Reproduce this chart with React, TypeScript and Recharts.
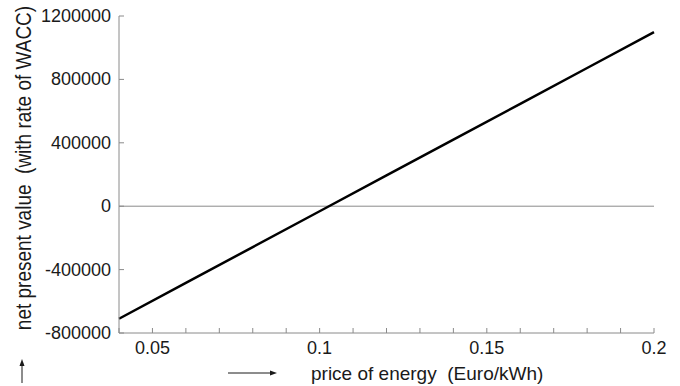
import { LineChart, Line, XAxis, YAxis, ReferenceLine } from "recharts";

// price of energy (Euro/kWh) and net present value
const prices = [0.04, 0.06, 0.08, 0.1, 0.12, 0.14, 0.16, 0.18, 0.2];
const npv = [-710000, -484000, -258000, -32000, 194000, 420000, 646000, 872000, 1098000];

const xTicks = [0.04, 0.05, 0.06, 0.07, 0.08, 0.09, 0.1, 0.11, 0.12, 0.13, 0.14, 0.15, 0.16, 0.17, 0.18, 0.19, 0.2];
const xLabels = ["0.05", "0.1", "0.15", "0.2"];
const yTicks = [-800000, -400000, 0, 400000, 800000, 1200000];

const data = prices.map((p, i) => ({ price: p, npv: npv[i] }));

const AXIS = "#8a8a8a";
const TEXT = "#1a1a1a";
const FONT = "'Liberation Sans', Arial, sans-serif";

const findLabel = (v: number) => xLabels.find((l) => Math.abs(parseFloat(l) - v) < 1e-6);

const BottomTick = (props: any) => {
  const { x, y, payload } = props;
  const label = findLabel(payload.value);
  return (
    <g>
      <line x1={x} x2={x} y1={y} y2={y - 5} stroke={AXIS} />
      {label && (
        <text x={x} y={y + 15} textAnchor="middle" dominantBaseline="central" fontSize={18} fill={TEXT} fontFamily={FONT}>
          {label}
        </text>
      )}
    </g>
  );
};

const TopTick = (props: any) => {
  const { x, y } = props;
  return <line x1={x} x2={x} y1={y} y2={y + 5} stroke={AXIS} />;
};

const LeftTick = (props: any) => {
  const { x, y, payload } = props;
  return (
    <g>
      <line x1={x} x2={x + 5} y1={y} y2={y} stroke={AXIS} />
      <text x={x - 8} y={y} textAnchor="end" dominantBaseline="central" fontSize={18} fill={TEXT} fontFamily={FONT}>
        {payload.value}
      </text>
    </g>
  );
};

export default function App() {
  return (
    <div style={{ position: "absolute", left: 0, top: 0, width: 680, height: 386, background: "#fff", fontFamily: FONT }}>
      <LineChart width={680} height={386} data={data} margin={{ top: 16, right: 26, bottom: 0, left: 0 }}>
        <XAxis
          dataKey="price"
          type="number"
          domain={[0.04, 0.2]}
          ticks={xTicks}
          interval={0}
          height={53}
          tickSize={0}
          tickMargin={0}
          tickLine={false}
          tick={<BottomTick />}
          axisLine={{ stroke: AXIS }}
        />
        <XAxis
          xAxisId="top"
          orientation="top"
          dataKey="price"
          type="number"
          domain={[0.04, 0.2]}
          ticks={xTicks}
          interval={0}
          height={0}
          tickSize={0}
          tickMargin={0}
          tickLine={false}
          tick={<TopTick />}
          axisLine={{ stroke: AXIS }}
        />
        <YAxis
          type="number"
          domain={[-800000, 1200000]}
          ticks={yTicks}
          interval={0}
          width={119}
          tickSize={0}
          tickMargin={0}
          tickLine={false}
          tick={<LeftTick />}
          axisLine={{ stroke: AXIS }}
        />
        <YAxis
          yAxisId="right"
          orientation="right"
          type="number"
          domain={[-800000, 1200000]}
          width={0}
          tick={false}
          tickLine={false}
          axisLine={{ stroke: AXIS }}
        />
        <ReferenceLine y={0} stroke={AXIS} strokeWidth={1} />
        <Line
          dataKey="npv"
          type="linear"
          stroke="#000"
          strokeWidth={2.5}
          dot={false}
          isAnimationActive={false}
        />
      </LineChart>
      <svg width={680} height={386} style={{ position: "absolute", left: 0, top: 0, pointerEvents: "none" }}>
        <text
          transform="translate(24,168) rotate(-90) scale(1,1.12)"
          textAnchor="middle"
          dominantBaseline="central"
          fontSize={19}
          fill={TEXT}
          fontFamily={FONT}
          style={{ whiteSpace: "pre" }}
        >
          {"net present value  (with rate of WACC)"}
        </text>
        <line x1={22} x2={22} y1={383} y2={364} stroke={TEXT} strokeWidth={1} />
        <polygon points="22,359 19.5,366 24.5,366" fill={TEXT} />
        <line x1={228} x2={271} y1={373} y2={373} stroke={TEXT} strokeWidth={1} />
        <polygon points="277,373 270,370.5 270,375.5" fill={TEXT} />
        <text x={311} y={373} dominantBaseline="central" fontSize={19} fill={TEXT} fontFamily={FONT} style={{ whiteSpace: "pre" }}>
          {"price of energy  (Euro/kWh)"}
        </text>
      </svg>
    </div>
  );
}
